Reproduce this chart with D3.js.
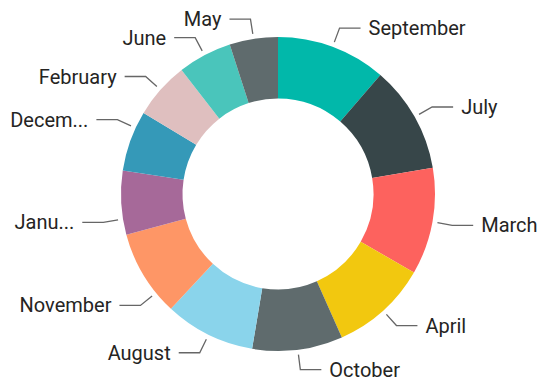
<!DOCTYPE html>
<html>
<head>
<meta charset="utf-8">
<script src="https://cdn.jsdelivr.net/npm/d3@7"></script>
<style>
  html, body { margin: 0; padding: 0; background: #ffffff; }
  svg { display: block; }
  .lbl { font-family: Roboto, "Noto Sans", sans-serif; font-size: 20px; font-weight: 400; fill: #252423; }
</style>
</head>
<body>
<div id="chart"></div>
<script>
// Months, in the order the donut draws them (largest first, clockwise from 12 o'clock)
const categories = ["September", "July", "March", "April", "October", "August",
                    "November", "January", "December", "February", "June", "May"];
// Text shown beside each slice (long names are cut short)
const labels = ["September", "July", "March", "April", "October", "August",
                "November", "Janu...", "Decem...", "February", "June", "May"];
// Slice values
const values = [40.7, 39.7, 39.6, 36, 33.5, 33.5, 32, 23.6, 22.5, 21, 20, 17.9];
// Slice colours
const colors = ["#01B8AA", "#374649", "#FD625E", "#F2C80F", "#5F6B6D", "#8AD4EB",
                "#FE9666", "#A66999", "#3599B8", "#DFBFBF", "#4AC5BB", "#5F6B6D"];

// Small angular shifts (degrees) of the leader anchor so side labels do not crowd
const leaderShift = { November: -8, January: -6, December: 5 };

const W = 539, H = 381;
const cx = 278, cy = 194;
const outerR = 157, innerR = 95.5;

const svg = d3.select("#chart").append("svg")
  .attr("width", W).attr("height", H);

const g = svg.append("g").attr("transform", `translate(${cx},${cy})`);

const rows = categories.map((c, i) => ({ name: c, label: labels[i], value: values[i], color: colors[i] }));

const pie = d3.pie().sort(null).value(d => d.value);
const arcs = pie(rows);

const arc = d3.arc().innerRadius(innerR).outerRadius(outerR);

g.selectAll("path.slice")
  .data(arcs)
  .join("path")
  .attr("class", "slice")
  .attr("d", arc)
  .attr("fill", d => d.data.color);

// Leader lines and labels
const startR = outerR + 5, elbowR = outerR + 20, hLen = 21, gap = 8;

function geom(d) {
  const a = (d.startAngle + d.endAngle) / 2 + (leaderShift[d.data.name] || 0) * Math.PI / 180;
  const p0 = [Math.sin(a) * startR, -Math.cos(a) * startR];
  const p1 = [Math.sin(a) * elbowR, -Math.cos(a) * elbowR];
  const side = Math.sin(a) >= 0 ? 1 : -1;
  const p2 = [p1[0] + side * hLen, p1[1]];
  return { p0, p1, p2, side };
}

const line = d3.line();

g.selectAll("path.leader")
  .data(arcs)
  .join("path")
  .attr("class", "leader")
  .attr("d", d => { const k = geom(d); return line([k.p0, k.p1, k.p2]); })
  .attr("fill", "none")
  .attr("stroke", "#666666")
  .attr("stroke-width", 1.3);

g.selectAll("text.lbl")
  .data(arcs)
  .join("text")
  .attr("class", "lbl")
  .attr("x", d => { const k = geom(d); return k.p2[0] + k.side * gap; })
  .attr("y", d => geom(d).p2[1])
  .attr("dy", "0.35em")
  .attr("text-anchor", d => geom(d).side > 0 ? "start" : "end")
  .text(d => d.data.label);
</script>
</body>
</html>
